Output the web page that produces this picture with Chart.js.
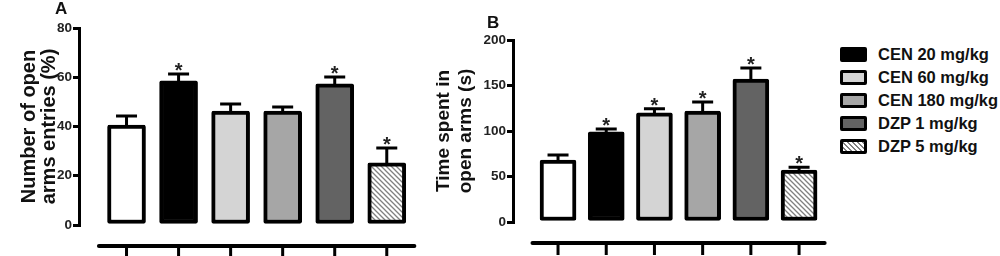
<!DOCTYPE html>
<html>
<head>
<meta charset="utf-8">
<script src="https://cdn.jsdelivr.net/npm/chart.js@4.4.1/dist/chart.umd.min.js"></script>
<style>
  body { margin: 0; background: #fff; width: 1000px; height: 256px; overflow: hidden; position: relative;
         font-family: "Liberation Sans", Arial, sans-serif; font-weight: bold; color: #111; }
  canvas { position: absolute; top: 0; }
  #chartA { left: 0; }
  #chartB { left: 420px; }
  .panel { position: absolute; font-size: 17px; }
  #legend { position: absolute; left: 840px; top: 43px; }
  .row { display: flex; align-items: center; height: 23px; font-size: 16.5px; }
  .sw { width: 21px; height: 9px; border: 3px solid #000; border-radius: 2px; margin-right: 11px; }
</style>
</head>
<body>
<canvas id="chartA" width="420" height="256"></canvas>
<canvas id="chartB" width="410" height="256"></canvas>
<div class="panel" style="left:55px;top:-1px">A</div>
<div class="panel" style="left:487px;top:13px">B</div>
<div id="legend"></div>

<script>
// ---- data ----
const groups = ["Vehicle", "CEN 20 mg/kg", "CEN 60 mg/kg", "CEN 180 mg/kg", "DZP 1 mg/kg", "DZP 5 mg/kg"];

// A: open arm entries (%)
const entriesMean = [40.6, 58.5, 46.3, 46.3, 57.3, 25.2];
const entriesErr  = [3.7, 2.8, 2.8, 1.6, 2.8, 6.1];
const entriesSig  = [false, true, false, false, true, true];
const entriesTicks = [0, 20, 40, 60, 80];

// B: time in open arms (s)
const timeMean = [68, 99, 120, 122, 157, 57];
const timeErr  = [5.5, 3.3, 4.4, 9.9, 12.1, 3.3];
const timeSig  = [false, true, true, true, true, true];
const timeTicks = [0, 50, 100, 150, 200];

const FONT = "'Liberation Sans', Arial, sans-serif";

function hatch() {
  const c = document.createElement("canvas");
  c.width = c.height = 5;
  const g = c.getContext("2d");
  g.fillStyle = "#fff";
  g.fillRect(0, 0, 5, 5);
  g.strokeStyle = "#808080";
  g.lineWidth = 1.3;
  g.beginPath();
  g.moveTo(0, 0); g.lineTo(5, 5);
  g.moveTo(-1, 4); g.lineTo(1, 6);
  g.moveTo(4, -1); g.lineTo(6, 1);
  g.stroke();
  return g.createPattern(c, "repeat");
}

const fills = ["#ffffff", "#000000", "#d4d4d4", "#a6a6a6", "#636363", hatch()];

// error bars, asterisks and the detached x axis
const errorBars = {
  id: "errorBars",
  afterDatasetsDraw(chart, args, opts) {
    const { ctx, scales: { x, y } } = chart;
    const meta = chart.getDatasetMeta(0);
    ctx.save();
    ctx.strokeStyle = "#000";
    ctx.fillStyle = "#222";
    ctx.lineWidth = 3;
    ctx.font = "bold 20px " + FONT;
    ctx.textAlign = "center";
    ctx.textBaseline = "alphabetic";
    meta.data.forEach((bar, i) => {
      const top = y.getPixelForValue(opts.mean[i] + opts.err[i]);
      ctx.beginPath();
      ctx.moveTo(bar.x, bar.y + 2);
      ctx.lineTo(bar.x, top);
      ctx.moveTo(bar.x - opts.cap / 2, top);
      ctx.lineTo(bar.x + opts.cap / 2, top);
      ctx.stroke();
      if (opts.sig[i]) ctx.fillText("*", bar.x, top + 3);
    });
    const base = chart.chartArea.bottom + 21;
    ctx.lineWidth = 4;
    ctx.lineCap = "round";
    ctx.beginPath();
    ctx.moveTo(x.getPixelForValue(0.47), base);
    ctx.lineTo(x.getPixelForValue(6.53), base);
    ctx.stroke();
    ctx.lineWidth = 3;
    ctx.lineCap = "butt";
    ctx.beginPath();
    meta.data.forEach(bar => {
      ctx.moveTo(bar.x, base);
      ctx.lineTo(bar.x, base + 12);
    });
    ctx.stroke();
    ctx.restore();
  }
};

function makeChart(id, mean, err, sig, ticks, title, cfg) {
  new Chart(document.getElementById(id), {
    type: "bar",
    data: {
      datasets: [{
        data: mean.map((v, i) => ({ x: i + 1, y: v })),
        backgroundColor: fills,
        borderColor: "#000",
        borderWidth: 4,
        borderRadius: 2,
        borderSkipped: false,
        barThickness: cfg.barW
      }]
    },
    options: {
      responsive: false,
      animation: false,
      layout: { padding: { top: cfg.top, bottom: cfg.bottom, left: 0, right: cfg.right } },
      plugins: {
        legend: { display: false },
        tooltip: { enabled: false },
        errorBars: { mean, err, sig, cap: 21 }
      },
      scales: {
        x: { type: "linear", display: false, offset: false, min: cfg.xMin, max: 6.6 },
        y: {
          min: ticks[0],
          max: ticks[ticks.length - 1],
          afterBuildTicks: s => { s.ticks = ticks.map(v => ({ value: v })); },
          afterFit: s => { s.width = cfg.axisW; },
          border: { display: true, color: "#000", width: 3 },
          grid: { drawOnChartArea: false, color: "#000", lineWidth: 3, tickLength: 6 },
          ticks: { color: "#222", padding: 1, font: { family: FONT, size: 13.5, weight: "bold" } },
          title: {
            display: true,
            text: title,
            color: "#111",
            padding: { top: cfg.titlePad, bottom: 0 },
            font: { family: FONT, size: cfg.titleSize, weight: "bold", lineHeight: cfg.titleLH }
          }
        }
      }
    },
    plugins: [errorBars]
  });
}

makeChart("chartA", entriesMean, entriesErr, entriesSig, entriesTicks,
  ["Number of open", "arms entries (%)"],
  { barW: 38, top: 28, bottom: 31, right: 2, xMin: 0.087, axisW: 79, titlePad: 19, titleSize: 20, titleLH: 1.0 });

makeChart("chartB", timeMean, timeErr, timeSig, timeTicks,
  ["Time spent in", "open arms (s)"],
  { barW: 36, top: 40, bottom: 34, right: 2, xMin: 0.066, axisW: 93, titlePad: 12, titleSize: 19, titleLH: 1.2 });

// legend (vehicle group has no entry)
const legend = document.getElementById("legend");
const swatchCss = ["", "#000", "#d4d4d4", "#a6a6a6", "#636363",
  "repeating-linear-gradient(45deg, #fff 0 2px, #808080 2px 3.5px)"];
groups.slice(1).forEach((g, k) => {
  const row = document.createElement("div");
  row.className = "row";
  row.innerHTML = `<div class="sw" style="background:${swatchCss[k + 1]}"></div><span>${g}</span>`;
  legend.appendChild(row);
});
</script>
</body>
</html>
